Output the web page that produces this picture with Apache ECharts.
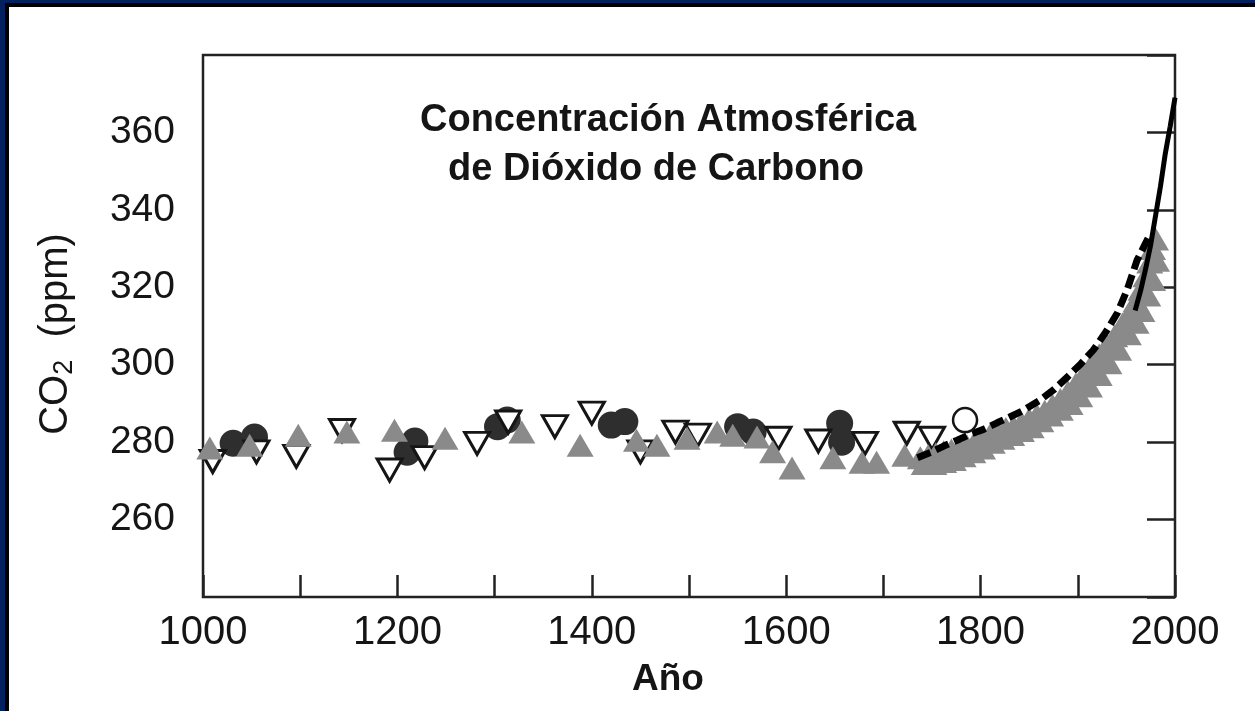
<!DOCTYPE html>
<html><head><meta charset="utf-8">
<script src="https://cdn.jsdelivr.net/npm/echarts@6/dist/echarts.min.js"></script>
<style>html,body{margin:0;padding:0;background:#fff}#c{width:1255px;height:711px}</style>
</head><body><div id="c"></div>
<script>
// Tick labels
const xTickLabels = [1000, 1200, 1400, 1600, 1800, 2000];
const yTickLabels = [260, 280, 300, 320, 340, 360];

// Ice-core data: [year, ppm]
const filledCircles = [
  [1031, 279.7], [1053, 281.3], [1210, 277.4], [1218, 280.3], [1303, 284], [1313, 285.7],
  [1420, 284.4], [1434, 285.3], [1550, 284], [1566, 282.6], [1655, 284.9], [1657, 280]
];
const openDownTriangles = [
  [1010, 275], [1055, 277.5], [1096, 276.3], [1143, 283], [1192, 272.8], [1228, 276],
  [1282, 279.7], [1314, 285.2], [1362, 284], [1400, 287.5], [1450, 277.5], [1486, 282.6],
  [1509, 281.8], [1592, 281], [1633, 280.3], [1681, 279.7], [1724, 282.3], [1750, 281]
];
const grayTriangles = [
  [1007, 278.5], [1048, 279.2], [1098, 281.8], [1148, 282.6], [1197, 283.1], [1249, 281],
  [1328, 282.6], [1388, 279.2], [1446, 280.5], [1467, 279.2], [1498, 281], [1529, 282.6],
  [1545, 281.8], [1570, 281.3], [1586, 277.5], [1606, 273.3], [1648, 276], [1678, 274.8],
  [1693, 274.8], [1722, 276.6]
];
const grayBandUpper = [
  [1738, 276], [1746, 276.5], [1754, 277], [1762, 277.5], [1770, 278], [1778, 278.5],
  [1786, 279], [1794, 280], [1802, 281], [1810, 282], [1818, 282.5], [1826, 283.5],
  [1834, 284], [1842, 285], [1850, 286], [1858, 287], [1866, 288], [1874, 289.5],
  [1882, 291], [1890, 293], [1898, 295], [1906, 297.5], [1914, 300], [1922, 302.5],
  [1930, 305], [1938, 307.5], [1946, 310.5], [1954, 313.5], [1960, 316.5], [1965, 319.5],
  [1970, 323], [1974, 326.5], [1977, 330], [1980, 332.5]
];
const grayBandLower = [
  [1742, 274.5], [1752, 274.5], [1762, 275], [1772, 275.5], [1782, 276.5], [1792, 277.5],
  [1802, 278.5], [1812, 280], [1822, 281], [1832, 282], [1842, 283], [1852, 284],
  [1862, 285.5], [1872, 287], [1882, 288.5], [1892, 290], [1902, 292], [1912, 294.5],
  [1922, 297.5], [1932, 300.5], [1942, 304], [1952, 308], [1960, 311], [1966, 314],
  [1972, 318], [1977, 322], [1981, 327]
];
const openCircle = [[1784, 285.7]];
const iceCoreLine = [
  [1735, 276], [1750, 277.5], [1762, 279], [1776, 280.5], [1789, 282], [1803, 283.3],
  [1817, 285], [1830, 286.5], [1844, 288.2], [1861, 290.8], [1876, 293.7], [1890, 297],
  [1903, 300.2], [1916, 303.8], [1929, 308.5], [1941, 313.5], [1951, 319.5], [1961, 327],
  [1968, 330.5], [1974, 333.5]
];
// Atmospheric measurements
const maunaLoaYears = [1959, 1965, 1970, 1975, 1980, 1985, 1990, 1995, 2000];
const maunaLoaPpm = [314, 319.5, 325, 331, 338.5, 346, 354.5, 361.5, 369];

const FONT = '"Liberation Sans", Arial, Helvetica, sans-serif';
const INK = '#151515';
const GRAY = '#8a8a8a';
const triSize = [27, 23];

const chart = echarts.init(document.getElementById('c'), null, {renderer: 'canvas'});
chart.setOption({
  animation: false,
  backgroundColor: '#ffffff',
  grid: {left: 203, top: 55, right: 80, bottom: 114, show: true, borderColor: '#222', borderWidth: 2.5, backgroundColor: 'transparent'},
  xAxis: {
    type: 'value', min: 1000, max: 2000, interval: 100,
    axisLine: {show: false},
    axisTick: {show: true, inside: true, length: 22, lineStyle: {color: '#222', width: 2.5}},
    axisLabel: {formatter: v => xTickLabels.includes(v) ? String(v) : '', fontSize: 40, fontFamily: FONT, color: INK, margin: 16},
    splitLine: {show: false}
  },
  yAxis: [
    {
      type: 'value', min: 240, max: 380, interval: 20, position: 'left',
      axisLine: {show: false}, axisTick: {show: false},
      axisLabel: {formatter: v => yTickLabels.includes(v) ? String(v) : '', fontSize: 39, fontFamily: FONT, color: INK, margin: 28},
      splitLine: {show: false}
    },
    {
      type: 'value', min: 240, max: 380, interval: 20, position: 'right',
      axisLine: {show: false},
      axisTick: {show: true, inside: true, length: 28, lineStyle: {color: '#222', width: 2.5}},
      axisLabel: {show: false}, splitLine: {show: false}
    }
  ],
  series: [
    {type: 'scatter', name: 'circles', data: filledCircles, symbol: 'circle', symbolSize: 27,
      itemStyle: {color: '#2e2e2e', opacity: 1}, z: 2},
    {type: 'scatter', name: 'down', data: openDownTriangles, symbol: 'triangle', symbolRotate: 180, symbolSize: [25, 22],
      itemStyle: {color: '#ffffff', borderColor: INK, borderWidth: 3, opacity: 1}, z: 3},
    {type: 'scatter', name: 'gray', data: grayTriangles, symbol: 'triangle', symbolSize: triSize,
      itemStyle: {color: GRAY, opacity: 1}, z: 4},
    {type: 'scatter', name: 'bandLower', data: grayBandLower, symbol: 'triangle', symbolSize: triSize,
      itemStyle: {color: GRAY, opacity: 1}, z: 5},
    {type: 'scatter', name: 'bandUpper', data: grayBandUpper, symbol: 'triangle', symbolSize: triSize,
      itemStyle: {color: GRAY, opacity: 1}, z: 6},
    {type: 'line', name: 'icecore', data: iceCoreLine, showSymbol: false, smooth: false,
      lineStyle: {color: '#000', width: 7, type: [14, 6]}, z: 7},
    {type: 'line', name: 'maunaloa', data: maunaLoaYears.map((y, i) => [y, maunaLoaPpm[i]]), showSymbol: false,
      lineStyle: {color: '#000', width: 5}, z: 8},
    {type: 'scatter', name: 'open', data: openCircle, symbol: 'circle', symbolSize: 24,
      itemStyle: {color: '#ffffff', borderColor: INK, borderWidth: 2.5, opacity: 1}, z: 9}
  ],
  graphic: [
    {type: 'rect', shape: {x: 0, y: 0, width: 1255, height: 7}, style: {fill: '#000'}, z: 100},
    {type: 'rect', shape: {x: 0, y: 0, width: 9, height: 711}, style: {fill: '#000'}, z: 100},
    {type: 'rect', shape: {x: 0, y: 0, width: 1255, height: 3}, style: {fill: '#03215f'}, z: 101},
    {type: 'rect', shape: {x: 0, y: 0, width: 5, height: 711}, style: {fill: '#03215f'}, z: 101},
    {type: 'text', x: 420, y: 121, z: 50,
      style: {text: 'Concentración Atmosférica', font: 'bold 38px ' + FONT, fill: INK, align: 'left', verticalAlign: 'middle', textAlign: 'left', textVerticalAlign: 'middle'}},
    {type: 'text', x: 448, y: 170, z: 50,
      style: {text: 'de Dióxido de Carbono', font: 'bold 38px ' + FONT, fill: INK, align: 'left', verticalAlign: 'middle', textAlign: 'left', textVerticalAlign: 'middle'}},
    {type: 'text', x: 668, y: 680, z: 50,
      style: {text: 'Año', font: 'bold 37px ' + FONT, fill: INK, align: 'center', verticalAlign: 'middle', textAlign: 'center', textVerticalAlign: 'middle'}},
    {type: 'text', x: 57, y: 334, rotation: Math.PI / 2, z: 50,
      style: {
        text: '{a|CO}{s|2}{a|  (ppm)}',
        align: 'center', verticalAlign: 'middle', textAlign: 'center', textVerticalAlign: 'middle',
        rich: {
          a: {fontSize: 40, fontFamily: FONT, fill: INK, color: INK, lineHeight: 42, verticalAlign: 'top'},
          s: {fontSize: 27, fontFamily: FONT, fill: INK, color: INK, lineHeight: 27, padding: [25, 0, 0, 0], verticalAlign: 'bottom'}
        }
      }}
  ]
});
</script></body></html>
